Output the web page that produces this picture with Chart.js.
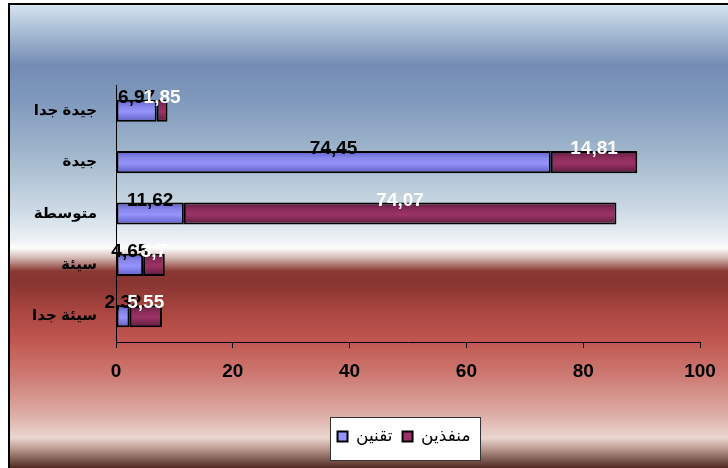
<!DOCTYPE html>
<html lang="ar">
<head>
    <meta charset="UTF-8">
    <title>تقنين / منفذين</title>
    <script src="https://cdn.jsdelivr.net/npm/chart.js"></script>
    <style>
        body {
            margin: 0;
            padding: 0;
            background: #fff;
        }
        .wrap {
            width: 728px;
            height: 468px;
            position: relative;
        }
    </style>
</head>
<body>
<div class="wrap">
    <canvas id="chart"></canvas>
</div>

<script>
    // Data
    var categories = ['جيدة جدا', 'جيدة', 'متوسطة', 'سيئة', 'سيئة جدا'];
    var seriesNames = ['تقنين', 'منفذين'];
    var taqnin = [6.97, 74.45, 11.62, 4.65, 2.32];
    var munafidhin = [1.85, 14.81, 74.07, 3.7, 5.55];
    var xTicks = [0, 20, 40, 60, 80, 100];

    var FONT = "Arial, 'Liberation Sans', 'DejaVu Sans', sans-serif";
    var BAR_PCT = 0.43;
    var LEGEND_SHIFT = 49; // legend sits right of centre in the original

    // Shaded fill for each bar (darker at the top and bottom edges)
    function barFill(mid, light, dark) {
        return function (c) {
            if (c.type !== 'data') return mid;
            var ys = c.chart.scales.y;
            if (!ys || ys.height === undefined) return mid;
            var cy = ys.getPixelForValue(c.dataIndex);
            var half = ys.height / categories.length * BAR_PCT / 2;
            var g = c.chart.ctx.createLinearGradient(0, cy - half, 0, cy + half);
            g.addColorStop(0, dark);
            g.addColorStop(0.3, light);
            g.addColorStop(0.55, mid);
            g.addColorStop(1, dark);
            return g;
        };
    }

    // Background of the whole picture + white panel behind the legend
    var backdrop = {
        id: 'backdrop',
        afterLayout: function (chart) {
            var lg = chart.legend;
            if (lg) {
                lg.left += LEGEND_SHIFT;
                lg.right += LEGEND_SHIFT;
            }
        },
        beforeDraw: function (chart) {
            var ctx = chart.ctx;
            var w = chart.width, h = chart.height;
            ctx.save();
            ctx.fillStyle = '#ffffff';
            ctx.fillRect(0, 0, w, h);
            var g = ctx.createLinearGradient(0, 5, 0, h);
            g.addColorStop(0.00, '#d6e3ee');
            g.addColorStop(0.04, '#b4c8dc');
            g.addColorStop(0.13, '#748cb4');
            g.addColorStop(0.20, '#7e98bc');
            g.addColorStop(0.32, '#a0b6cc');
            g.addColorStop(0.44, '#cbd9e4');
            g.addColorStop(0.51, '#eef2f6');
            g.addColorStop(0.525, '#fdfdfd');
            g.addColorStop(0.545, '#d6bcb8');
            g.addColorStop(0.575, '#8a3832');
            g.addColorStop(0.60, '#873430');
            g.addColorStop(0.66, '#a94540');
            g.addColorStop(0.72, '#bf554e');
            g.addColorStop(0.80, '#cd7a72');
            g.addColorStop(0.88, '#dcaaa2');
            g.addColorStop(0.935, '#ead6cf');
            g.addColorStop(0.96, '#b8968c');
            g.addColorStop(1.00, '#4e2a22');
            ctx.fillStyle = g;
            ctx.fillRect(10, 5, w - 10, h - 5);
            ctx.fillStyle = '#000';
            ctx.fillRect(8, 3, 2, h - 3);
            ctx.fillRect(8, 3, w - 8, 2);

            var lg = chart.legend;
            if (lg && lg.legendHitBoxes && lg.legendHitBoxes.length) {
                var boxes = lg.legendHitBoxes;
                var l = Infinity, r = -Infinity;
                boxes.forEach(function (b) {
                    l = Math.min(l, b.left);
                    r = Math.max(r, b.left + b.width);
                });
                var t = boxes[0].top;
                var bx = Math.round(l - 8) + 0.5, by = Math.round(t - 11) + 0.5;
                var bw = Math.round(r - l + 17), bhh = 43;
                ctx.fillStyle = '#ffffff';
                ctx.fillRect(bx, by, bw, bhh);
                ctx.strokeStyle = '#333';
                ctx.lineWidth = 1;
                ctx.strokeRect(bx, by, bw, bhh);
            }
            ctx.restore();
        }
    };

    // Value labels on the bar segments
    var valueLabels = {
        id: 'valueLabels',
        afterDatasetsDraw: function (chart) {
            var ctx = chart.ctx;
            ctx.save();
            ctx.font = 'bold 19px ' + FONT;
            ctx.textAlign = 'center';
            ctx.textBaseline = 'middle';
            chart.data.datasets.forEach(function (ds, di) {
                var meta = chart.getDatasetMeta(di);
                ctx.fillStyle = di === 0 ? '#000000' : '#ffffff';
                meta.data.forEach(function (bar, i) {
                    var p = bar.getProps(['x', 'y', 'base', 'height'], true);
                    var cx = (p.x + p.base) / 2;
                    var cy = p.y - p.height / 2 - 2;
                    ctx.fillText(String(ds.data[i]).replace('.', ','), cx, cy);
                });
            });
            ctx.restore();
        }
    };

    var chart = new Chart(document.getElementById('chart').getContext('2d'), {
        type: 'bar',
        data: {
            labels: categories,
            datasets: [{
                label: seriesNames[0],
                data: taqnin,
                backgroundColor: barFill('#9494fc', '#8585ea', '#5e5ec4'),
                borderColor: '#000',
                borderWidth: 2,
                borderSkipped: false,
                barPercentage: BAR_PCT,
                categoryPercentage: 1
            }, {
                label: seriesNames[1],
                data: munafidhin,
                backgroundColor: barFill('#9c3366', '#8a2c5a', '#5c1c3c'),
                borderColor: '#000',
                borderWidth: 2,
                borderSkipped: false,
                barPercentage: BAR_PCT,
                categoryPercentage: 1
            }]
        },
        options: {
            indexAxis: 'y',
            responsive: true,
            maintainAspectRatio: false,
            animation: false,
            layout: {
                padding: { left: 10, right: 28, top: 85, bottom: 13 }
            },
            scales: {
                x: {
                    stacked: true,
                    min: 0,
                    max: 100,
                    afterBuildTicks: function (s) {
                        s.ticks = xTicks.map(function (v) { return { value: v }; });
                    },
                    afterFit: function (s) { s.height = 76; },
                    grid: {
                        display: true,
                        drawOnChartArea: false,
                        drawTicks: true,
                        tickLength: 6,
                        tickColor: '#000',
                        color: '#000'
                    },
                    border: { display: true, color: '#000', width: 1 },
                    ticks: {
                        color: '#000',
                        padding: 12,
                        maxRotation: 0,
                        font: { family: FONT, size: 19, weight: 'bold' }
                    }
                },
                y: {
                    stacked: true,
                    afterFit: function (s) { s.width = 106; },
                    grid: { display: false, drawTicks: false },
                    border: { display: true, color: '#000', width: 1 },
                    ticks: {
                        color: '#000',
                        padding: 19,
                        font: { family: FONT, size: 15, weight: 'bold' }
                    }
                }
            },
            plugins: {
                legend: {
                    position: 'bottom',
                    labels: {
                        boxWidth: 10,
                        boxHeight: 10,
                        padding: 10,
                        color: '#000',
                        font: { family: FONT, size: 17 },
                        generateLabels: function (ch) {
                            var cols = ['#9494fc', '#9c3366'];
                            return ch.data.datasets.map(function (ds, i) {
                                return {
                                    text: ds.label,
                                    fillStyle: cols[i],
                                    strokeStyle: '#000',
                                    lineWidth: 2,
                                    datasetIndex: i,
                                    hidden: false
                                };
                            });
                        }
                    }
                },
                tooltip: { enabled: false }
            }
        },
        plugins: [backdrop, valueLabels]
    });
</script>
</body>
</html>
